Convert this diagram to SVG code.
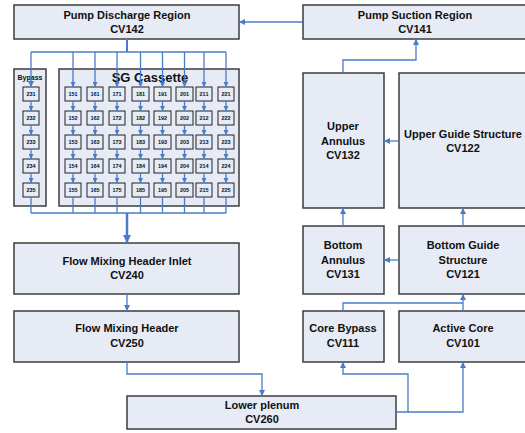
<svg xmlns="http://www.w3.org/2000/svg" width="525" height="433" viewBox="0 0 525 433">
<style>
.box{fill:#e6ebf5;stroke:#3c3c3c;stroke-width:1.5}
.cell{fill:#e6ebf5;stroke:#222;stroke-width:1}
.t{font-family:"Liberation Sans",Arial,sans-serif;font-weight:bold;font-size:11px;fill:#111;text-anchor:middle}
.ct{font-family:"Liberation Sans",Arial,sans-serif;font-weight:bold;font-size:5.5px;fill:#111;text-anchor:middle}
.ln{fill:none;stroke:#4a7bc8;stroke-width:1.3}
</style>
<defs>
<marker id="ah" viewBox="0 0 10 10" refX="10" refY="5" markerWidth="6" markerHeight="6" markerUnits="userSpaceOnUse" orient="auto"><path d="M0,0 L10,5 L0,10 z" fill="#4a7bc8"/></marker>
<marker id="as" viewBox="0 0 10 10" refX="10" refY="5" markerWidth="5" markerHeight="5" markerUnits="userSpaceOnUse" orient="auto"><path d="M0,0 L10,5 L0,10 z" fill="#4a7bc8"/></marker>
<marker id="ab" viewBox="0 0 10 10" refX="10" refY="5" markerWidth="8" markerHeight="8" markerUnits="userSpaceOnUse" orient="auto"><path d="M0,0 L10,5 L0,10 z" fill="#4a7bc8"/></marker>
</defs>

<g id="cv142"><rect class="box" x="14" y="5" width="225" height="34"/><text class="t" x="127" y="19">Pump Discharge Region</text><text class="t" x="127" y="33">CV142</text></g>
<g id="cv141"><rect class="box" x="303" y="5" width="224" height="34"/><text class="t" x="415" y="19">Pump Suction Region</text><text class="t" x="415" y="33">CV141</text></g>
<g id="cv132"><rect class="box" x="303" y="73" width="81" height="135"/><text class="t" x="343" y="130">Upper</text><text class="t" x="343" y="145">Annulus</text><text class="t" x="343" y="159">CV132</text></g>
<g id="cv122"><rect class="box" x="399" y="73" width="128" height="135"/><text class="t" x="463" y="138">Upper Guide Structure</text><text class="t" x="463" y="152">CV122</text></g>
<g id="cv131"><rect class="box" x="303" y="226" width="81" height="68"/><text class="t" x="343" y="249">Bottom</text><text class="t" x="343" y="264">Annulus</text><text class="t" x="343" y="278">CV131</text></g>
<g id="cv121"><rect class="box" x="399" y="226" width="128" height="68"/><text class="t" x="463" y="249">Bottom Guide</text><text class="t" x="463" y="264">Structure</text><text class="t" x="463" y="278">CV121</text></g>
<g id="cv111"><rect class="box" x="303" y="311" width="81" height="51"/><text class="t" x="343" y="332">Core Bypass</text><text class="t" x="343" y="347">CV111</text></g>
<g id="cv101"><rect class="box" x="399" y="311" width="128" height="51"/><text class="t" x="463" y="332">Active Core</text><text class="t" x="463" y="347">CV101</text></g>
<g id="cv240"><rect class="box" x="14" y="243" width="225" height="51"/><text class="t" x="127" y="265">Flow Mixing Header Inlet</text><text class="t" x="127" y="279">CV240</text></g>
<g id="cv250"><rect class="box" x="14" y="311" width="225" height="51"/><text class="t" x="127" y="332">Flow Mixing Header</text><text class="t" x="127" y="347">CV250</text></g>
<g id="cv260"><rect class="box" x="127" y="396" width="269" height="33"/><text class="t" x="262" y="409">Lower plenum</text><text class="t" x="262" y="423">CV260</text></g>

<g id="bypass"><rect class="box" x="14" y="69" width="32" height="137"/><text class="t" x="30" y="80" style="font-size:7px">Bypass</text></g>
<g id="sg-cassette"><rect class="box" x="59" y="69" width="180" height="137"/><text class="t" x="150" y="82" style="font-size:13px">SG Cassette</text></g>

<g id="cells">
<g id="c231"><rect class="cell" x="23" y="87" width="16" height="14"/><text class="ct" x="31" y="96">231</text></g>
<g id="c232"><rect class="cell" x="23" y="111" width="16" height="14"/><text class="ct" x="31" y="120">232</text></g>
<g id="c233"><rect class="cell" x="23" y="135" width="16" height="14"/><text class="ct" x="31" y="144">233</text></g>
<g id="c234"><rect class="cell" x="23" y="159" width="16" height="14"/><text class="ct" x="31" y="168">234</text></g>
<g id="c235"><rect class="cell" x="23" y="183" width="16" height="14"/><text class="ct" x="31" y="192">235</text></g>

<g id="c151"><rect class="cell" x="65" y="87" width="16" height="14"/><text class="ct" x="73" y="96">151</text></g>
<g id="c152"><rect class="cell" x="65" y="111" width="16" height="14"/><text class="ct" x="73" y="120">152</text></g>
<g id="c153"><rect class="cell" x="65" y="135" width="16" height="14"/><text class="ct" x="73" y="144">153</text></g>
<g id="c154"><rect class="cell" x="65" y="159" width="16" height="14"/><text class="ct" x="73" y="168">154</text></g>
<g id="c155"><rect class="cell" x="65" y="183" width="16" height="14"/><text class="ct" x="73" y="192">155</text></g>

<g id="c161"><rect class="cell" x="87" y="87" width="16" height="14"/><text class="ct" x="95" y="96">161</text></g>
<g id="c162"><rect class="cell" x="87" y="111" width="16" height="14"/><text class="ct" x="95" y="120">162</text></g>
<g id="c163"><rect class="cell" x="87" y="135" width="16" height="14"/><text class="ct" x="95" y="144">163</text></g>
<g id="c164"><rect class="cell" x="87" y="159" width="16" height="14"/><text class="ct" x="95" y="168">164</text></g>
<g id="c165"><rect class="cell" x="87" y="183" width="16" height="14"/><text class="ct" x="95" y="192">165</text></g>

<g id="c171"><rect class="cell" x="109" y="87" width="16" height="14"/><text class="ct" x="117" y="96">171</text></g>
<g id="c172"><rect class="cell" x="109" y="111" width="16" height="14"/><text class="ct" x="117" y="120">172</text></g>
<g id="c173"><rect class="cell" x="109" y="135" width="16" height="14"/><text class="ct" x="117" y="144">173</text></g>
<g id="c174"><rect class="cell" x="109" y="159" width="16" height="14"/><text class="ct" x="117" y="168">174</text></g>
<g id="c175"><rect class="cell" x="109" y="183" width="16" height="14"/><text class="ct" x="117" y="192">175</text></g>

<g id="c181"><rect class="cell" x="132" y="87" width="17" height="14"/><text class="ct" x="140.5" y="96">181</text></g>
<g id="c182"><rect class="cell" x="132" y="111" width="17" height="14"/><text class="ct" x="140.5" y="120">182</text></g>
<g id="c183"><rect class="cell" x="132" y="135" width="17" height="14"/><text class="ct" x="140.5" y="144">183</text></g>
<g id="c184"><rect class="cell" x="132" y="159" width="17" height="14"/><text class="ct" x="140.5" y="168">184</text></g>
<g id="c185"><rect class="cell" x="132" y="183" width="17" height="14"/><text class="ct" x="140.5" y="192">185</text></g>

<g id="c191"><rect class="cell" x="154" y="87" width="17" height="14"/><text class="ct" x="162.5" y="96">191</text></g>
<g id="c192"><rect class="cell" x="154" y="111" width="17" height="14"/><text class="ct" x="162.5" y="120">192</text></g>
<g id="c193"><rect class="cell" x="154" y="135" width="17" height="14"/><text class="ct" x="162.5" y="144">193</text></g>
<g id="c194"><rect class="cell" x="154" y="159" width="17" height="14"/><text class="ct" x="162.5" y="168">194</text></g>
<g id="c195"><rect class="cell" x="154" y="183" width="17" height="14"/><text class="ct" x="162.5" y="192">195</text></g>

<g id="c201"><rect class="cell" x="176" y="87" width="17" height="14"/><text class="ct" x="184.5" y="96">201</text></g>
<g id="c202"><rect class="cell" x="176" y="111" width="17" height="14"/><text class="ct" x="184.5" y="120">202</text></g>
<g id="c203"><rect class="cell" x="176" y="135" width="17" height="14"/><text class="ct" x="184.5" y="144">203</text></g>
<g id="c204"><rect class="cell" x="176" y="159" width="17" height="14"/><text class="ct" x="184.5" y="168">204</text></g>
<g id="c205"><rect class="cell" x="176" y="183" width="17" height="14"/><text class="ct" x="184.5" y="192">205</text></g>

<g id="c211"><rect class="cell" x="196" y="87" width="16" height="14"/><text class="ct" x="204" y="96">211</text></g>
<g id="c212"><rect class="cell" x="196" y="111" width="16" height="14"/><text class="ct" x="204" y="120">212</text></g>
<g id="c213"><rect class="cell" x="196" y="135" width="16" height="14"/><text class="ct" x="204" y="144">213</text></g>
<g id="c214"><rect class="cell" x="196" y="159" width="16" height="14"/><text class="ct" x="204" y="168">214</text></g>
<g id="c215"><rect class="cell" x="196" y="183" width="16" height="14"/><text class="ct" x="204" y="192">215</text></g>

<g id="c221"><rect class="cell" x="218" y="87" width="16" height="14"/><text class="ct" x="226" y="96">221</text></g>
<g id="c222"><rect class="cell" x="218" y="111" width="16" height="14"/><text class="ct" x="226" y="120">222</text></g>
<g id="c223"><rect class="cell" x="218" y="135" width="16" height="14"/><text class="ct" x="226" y="144">223</text></g>
<g id="c224"><rect class="cell" x="218" y="159" width="16" height="14"/><text class="ct" x="226" y="168">224</text></g>
<g id="c225"><rect class="cell" x="218" y="183" width="16" height="14"/><text class="ct" x="226" y="192">225</text></g>
</g>

<g id="connectors">
<path class="ln" d="M303,22 H239" marker-end="url(#ah)"/>
<path class="ln" d="M127,39 V52" style="stroke-width:2"/>
<path class="ln" d="M31,52 H226"/>
<path class="ln" d="M31,52 V87" marker-end="url(#ah)"/>
<path class="ln" d="M73,52 V87" marker-end="url(#as)"/>
<path class="ln" d="M95,52 V87" marker-end="url(#as)"/>
<path class="ln" d="M117,52 V87" marker-end="url(#as)"/>
<path class="ln" d="M140.5,52 V87" marker-end="url(#as)"/>
<path class="ln" d="M162.5,52 V87" marker-end="url(#as)"/>
<path class="ln" d="M184.5,52 V87" marker-end="url(#as)"/>
<path class="ln" d="M204,52 V87" marker-end="url(#as)"/>
<path class="ln" d="M226,52 V87" marker-end="url(#as)"/>

<path class="ln" d="M31,101V111" marker-end="url(#as)"/><path class="ln" d="M31,125V135" marker-end="url(#as)"/><path class="ln" d="M31,149V159" marker-end="url(#as)"/><path class="ln" d="M31,173V183" marker-end="url(#as)"/>
<path class="ln" d="M73,101V111" marker-end="url(#as)"/><path class="ln" d="M73,125V135" marker-end="url(#as)"/><path class="ln" d="M73,149V159" marker-end="url(#as)"/><path class="ln" d="M73,173V183" marker-end="url(#as)"/>
<path class="ln" d="M95,101V111" marker-end="url(#as)"/><path class="ln" d="M95,125V135" marker-end="url(#as)"/><path class="ln" d="M95,149V159" marker-end="url(#as)"/><path class="ln" d="M95,173V183" marker-end="url(#as)"/>
<path class="ln" d="M117,101V111" marker-end="url(#as)"/><path class="ln" d="M117,125V135" marker-end="url(#as)"/><path class="ln" d="M117,149V159" marker-end="url(#as)"/><path class="ln" d="M117,173V183" marker-end="url(#as)"/>
<path class="ln" d="M140.5,101V111" marker-end="url(#as)"/><path class="ln" d="M140.5,125V135" marker-end="url(#as)"/><path class="ln" d="M140.5,149V159" marker-end="url(#as)"/><path class="ln" d="M140.5,173V183" marker-end="url(#as)"/>
<path class="ln" d="M162.5,101V111" marker-end="url(#as)"/><path class="ln" d="M162.5,125V135" marker-end="url(#as)"/><path class="ln" d="M162.5,149V159" marker-end="url(#as)"/><path class="ln" d="M162.5,173V183" marker-end="url(#as)"/>
<path class="ln" d="M184.5,101V111" marker-end="url(#as)"/><path class="ln" d="M184.5,125V135" marker-end="url(#as)"/><path class="ln" d="M184.5,149V159" marker-end="url(#as)"/><path class="ln" d="M184.5,173V183" marker-end="url(#as)"/>
<path class="ln" d="M204,101V111" marker-end="url(#as)"/><path class="ln" d="M204,125V135" marker-end="url(#as)"/><path class="ln" d="M204,149V159" marker-end="url(#as)"/><path class="ln" d="M204,173V183" marker-end="url(#as)"/>
<path class="ln" d="M226,101V111" marker-end="url(#as)"/><path class="ln" d="M226,125V135" marker-end="url(#as)"/><path class="ln" d="M226,149V159" marker-end="url(#as)"/><path class="ln" d="M226,173V183" marker-end="url(#as)"/>

<path class="ln" d="M31,197V213M73,197V213M95,197V213M117,197V213M140.5,197V213M162.5,197V213M184.5,197V213M204,197V213M226,197V213M31,213H226"/>
<path class="ln" d="M127,213V243" style="stroke-width:2.5" marker-end="url(#ab)"/>
<path class="ln" d="M127,294V311" marker-end="url(#ah)"/>
<path class="ln" d="M127,362V374H262V396" marker-end="url(#ah)"/>
<path class="ln" d="M396,412H408V374H343V362" marker-end="url(#ah)"/>
<path class="ln" d="M408,412H463V362" marker-end="url(#ah)"/>
<path class="ln" d="M463,311V294" marker-end="url(#ah)"/>
<path class="ln" d="M343,311V303H463"/>
<path class="ln" d="M399,260H384" marker-end="url(#ah)"/>
<path class="ln" d="M343,226V208" marker-end="url(#ah)"/>
<path class="ln" d="M463,226V208" marker-end="url(#ah)"/>
<path class="ln" d="M399,141H384" marker-end="url(#ah)"/>
<path class="ln" d="M343,73V60H416V39" marker-end="url(#ah)"/>
</g>
</svg>
